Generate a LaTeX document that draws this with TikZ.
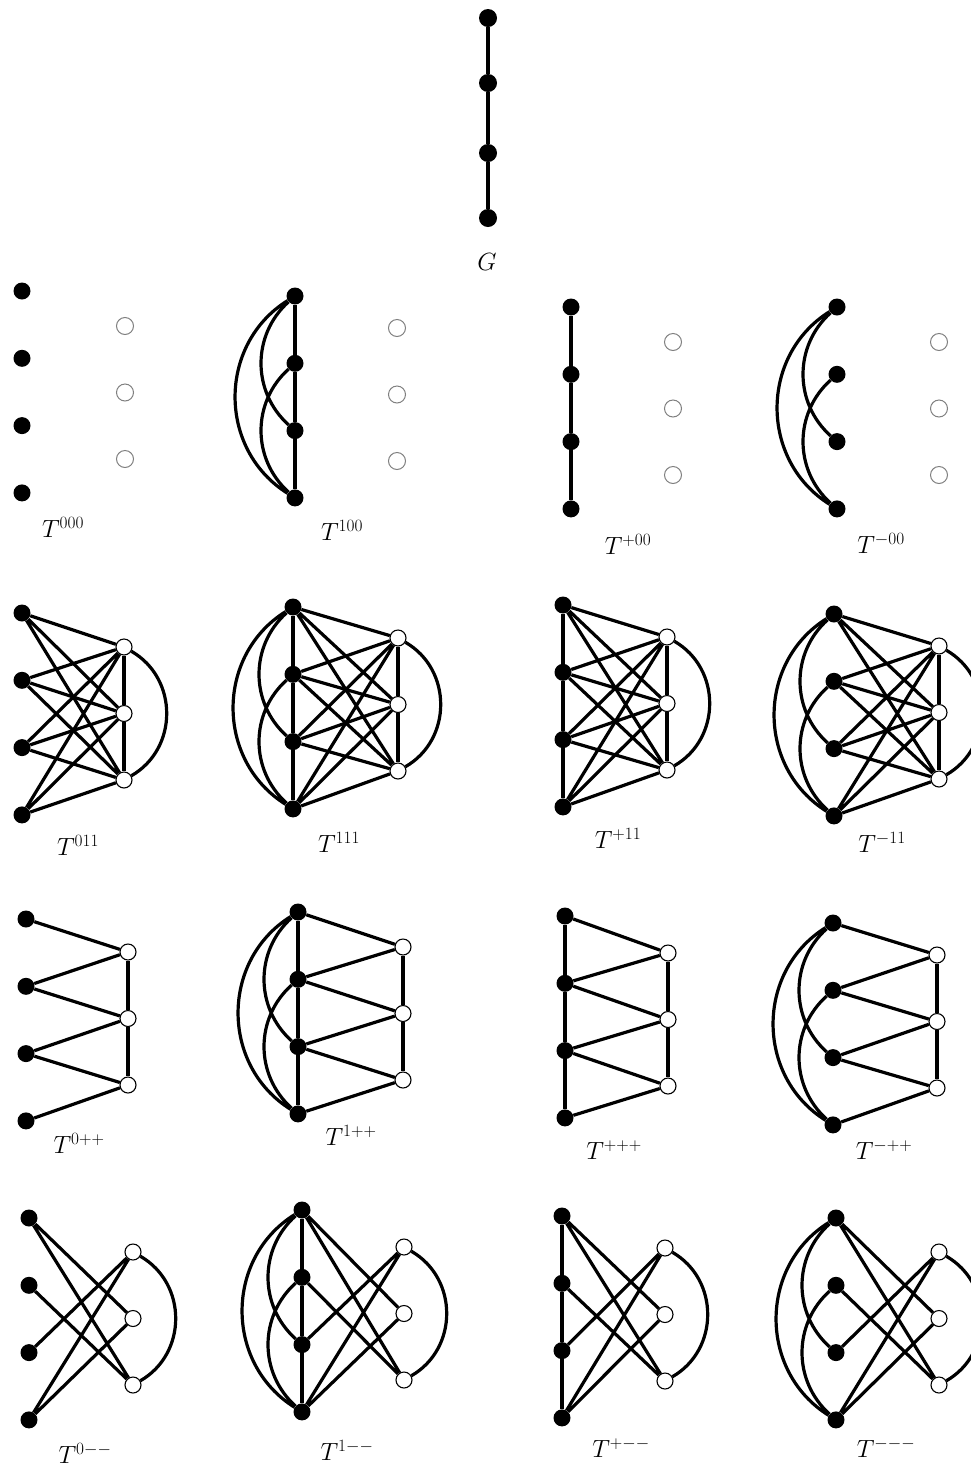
\documentclass[tikz,border=0pt]{standalone}
\usetikzlibrary{backgrounds}
\DeclareMathSizes{23}{23}{19}{14}
\tikzset{
 bdot/.style={circle,fill=black,inner sep=0pt,minimum size=17pt},
 wdot/.style={circle,draw=black,line width=1.1pt,fill=white,inner sep=0pt,minimum size=16pt},
 gdot/.style={circle,draw=black!50,line width=1pt,fill=white,inner sep=0pt,minimum size=17pt},
 ln/.style={line width=3.2pt},
 lab/.style={font=\fontsize{23}{27}\selectfont,inner sep=0pt},
}
% #1 name, #2 black x, #3 first black y, #4 white x, #5 first white y, #6 white style
\newcommand\panel[6]{%
  \foreach \i in {1,...,4} \node[bdot] (#1b\i) at (#2,{-(#3+(\i-1)*67.3)}) {};
  \foreach \i in {1,2,3} \node[#6] (#1w\i) at (#4,{-(#5+(\i-1)*66.5)}) {};
}
\newcommand\bbPath[1]{\draw[ln] (#1b1) -- (#1b2) (#1b2) -- (#1b3) (#1b3) -- (#1b4);}
\newcommand\bbCo[1]{\draw[ln] (#1b1) to[bend right=58,looseness=1.1] (#1b4)
   (#1b1) to[bend right=48,looseness=1.03] (#1b3)
   (#1b2) to[bend right=48,looseness=1.03] (#1b4);}
\newcommand\bbAll[1]{\bbPath{#1}\bbCo{#1}}
\newcommand\wwPath[1]{\draw[ln] (#1w1) -- (#1w2) (#1w2) -- (#1w3);}
\newcommand\wwCo[1]{\draw[ln] (#1w1) to[bend left=60,looseness=1.12] (#1w3);}
\newcommand\wwAll[1]{\wwPath{#1}\wwCo{#1}}
\newcommand\bwPath[1]{\draw[ln] (#1b1) -- (#1w1) (#1w1) -- (#1b2) (#1b2) -- (#1w2)
   (#1w2) -- (#1b3) (#1b3) -- (#1w3) (#1w3) -- (#1b4);}
\newcommand\bwCo[1]{\draw[ln] (#1b1) -- (#1w2) (#1b1) -- (#1w3) (#1b2) -- (#1w3)
   (#1b3) -- (#1w1) (#1b4) -- (#1w1) (#1b4) -- (#1w2);}
\newcommand\bwAll[1]{\bwPath{#1}\bwCo{#1}}
\begin{document}
\begin{tikzpicture}[x=1pt,y=1pt]
\useasboundingbox (0,0) rectangle (970,-1468);
% G
\node[bdot,minimum size=18pt] (g1) at (488,-18) {};
\node[bdot,minimum size=18pt] (g2) at (488,-83) {};
\node[bdot,minimum size=18pt] (g3) at (488,-153) {};
\node[bdot,minimum size=18pt] (g4) at (488,-218) {};
\node[lab] (gl) at (487,-262) {$G$};
% row 1
\panel{a}{22}{291}{125}{326}{gdot}
\panel{b}{295}{296}{397}{328}{gdot}
\panel{c}{571}{307}{673}{342}{gdot}
\panel{d}{837}{307}{939}{342}{gdot}
% row 2
\panel{e}{22}{613}{124}{647}{wdot}
\panel{f}{293}{607}{398}{638}{wdot}
\panel{g}{563}{605}{667}{637}{wdot}
\panel{h}{834}{614}{939}{646}{wdot}
% row 3
\panel{i}{26}{919}{128}{952}{wdot}
\panel{j}{298}{912}{403}{947}{wdot}
\panel{k}{565}{916}{668}{953}{wdot}
\panel{l}{833}{923}{937}{955}{wdot}
% row 4
\panel{m}{29}{1218}{133}{1252}{wdot}
\panel{n}{302}{1210}{404}{1247}{wdot}
\panel{o}{562}{1216}{665}{1248}{wdot}
\panel{p}{836}{1218}{939}{1252}{wdot}
% labels
\node[lab] (la) at (63,-527) {$T^{000}$};
\node[lab] (lb) at (342,-530) {$T^{100}$};
\node[lab] (lc) at (628,-544) {$T^{+00}$};
\node[lab] (ld) at (881,-543) {$T^{-00}$};
\node[lab] (le) at (78,-845) {$T^{011}$};
\node[lab] (lf) at (339,-842) {$T^{111}$};
\node[lab] (lg) at (618,-838) {$T^{+11}$};
\node[lab] (lh) at (882,-842) {$T^{-11}$};
\node[lab] (li) at (79,-1143) {$T^{0++}$};
\node[lab] (lj) at (351,-1135) {$T^{1++}$};
\node[lab] (lk) at (614,-1150) {$T^{+++}$};
\node[lab] (ll) at (884,-1150) {$T^{-++}$};
\node[lab] (lm) at (85,-1453) {$T^{0--}$};
\node[lab] (ln) at (347,-1450) {$T^{1--}$};
\node[lab] (lo) at (621,-1448) {$T^{+--}$};
\node[lab] (lp) at (886,-1448) {$T^{---}$};
\begin{scope}[on background layer]
\draw[ln] (g1) -- (g2) (g2) -- (g3) (g3) -- (g4);
% row 1
\bbAll{b}
\bbPath{c}
\bbCo{d}
% row 2
\wwAll{e}\bwAll{e}
\bbAll{f}\wwAll{f}\bwAll{f}
\bbPath{g}\wwAll{g}\bwAll{g}
\bbCo{h}\wwAll{h}\bwAll{h}
% row 3
\wwPath{i}\bwPath{i}
\bbAll{j}\wwPath{j}\bwPath{j}
\bbPath{k}\wwPath{k}\bwPath{k}
\bbCo{l}\wwPath{l}\bwPath{l}
% row 4
\wwCo{m}\bwCo{m}
\bbAll{n}\wwCo{n}\bwCo{n}
\bbPath{o}\wwCo{o}\bwCo{o}
\bbCo{p}\wwCo{p}\bwCo{p}
\end{scope}
\end{tikzpicture}
\end{document}
